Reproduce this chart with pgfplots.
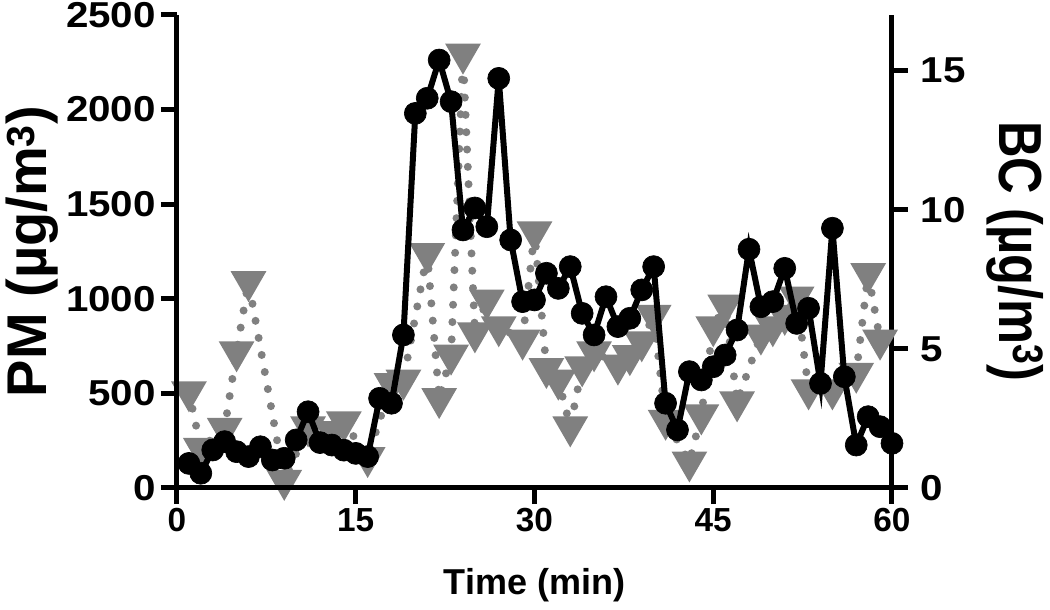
\documentclass[border=0pt]{standalone}
\usepackage{fontspec}
\setmainfont{Liberation Sans}
\usepackage{pgfplots}
\pgfplotsset{compat=1.18}
\definecolor{bcgrey}{RGB}{128,128,128}

\pgfplotstableread{
t bc
1 3.46
2 1.43
4 2.15
5 4.90
6 7.42
9 0.28
11 2.20
13 2.03
14 2.38
16 1.10
18 3.76
19 3.88
21 8.43
22 3.22
23 4.78
24 15.6
25 5.58
26 6.76
27 5.80
29 5.32
30 9.21
31 4.30
32 3.88
33 2.20
34 4.36
35 4.90
37 4.42
38 4.76
39 5.26
40 6.21
41 2.44
43 0.94
44 2.63
45 5.80
46 6.58
47 3.10
49 5.50
50 5.80
51 6.21
52 6.87
53 3.53
55 3.53
57 4.13
58 7.71
59 5.32
}\bcdata

\pgfplotstableread{
t pm
1 130
2 78
3 201
4 245
5 192
6 166
7 218
8 148
9 157
10 254
11 403
12 240
13 227
14 200
15 183
16 166
17 474
18 448
19 809
20 1980
21 2060
22 2262
23 2042
24 1364
25 1480
26 1381
27 2165
28 1311
29 985
30 994
31 1135
32 1055
33 1170
34 923
35 809
36 1011
37 853
38 897
39 1047
40 1170
41 448
42 307
43 615
44 571
45 641
46 703
47 835
48 1262
49 958
50 985
51 1161
52 870
53 950
54 553
55 1373
56 588
57 227
58 377
59 324
60 236
}\pmdata

\begin{document}
\begin{tikzpicture}
\pgfplotsset{
  common/.style={
    scale only axis, width=536.25pt, height=354.75pt,
    xmin=0, xmax=60, clip=false,
    axis line style={line width=3.75pt, -},
    tick style={line width=3.75pt, black},
    major tick length=12pt,
    tick align=outside,
    xticklabel style={font=\fontsize{25}{25}\selectfont\bfseries},
    yticklabel style={font=\fontsize{27}{27}\selectfont\bfseries, xscale=1.12},
    /pgf/number format/assume math mode=true,
    /pgf/number format/1000 sep={},
    scaled ticks=false,
  }
}
\begin{axis}[common, hide x axis, axis y line*=right,
  ymin=0, ymax=17, ytick={0,5,10,15},
  yticklabel style={xshift=5pt},
  every axis y label/.style={at={(axis description cs:1.172,0.5)}, anchor=center, rotate=-90, yscale=1.2, font=\fontsize{38}{38}\selectfont\bfseries},
  ylabel={BC (µg/m\textsuperscript{3})}]
\addplot[bcgrey, line width=6pt, dash pattern=on 0pt off 13pt, line cap=round,
  mark=triangle*, mark options={solid, rotate=180, fill=bcgrey, draw=none, mark size=9.5pt}]
  table[x=t, y=bc] {\bcdata};
\end{axis}
\begin{axis}[common, axis x line*=bottom, axis y line*=left,
  ymin=0, ymax=2500, ytick={0,500,1000,1500,2000,2500},
  xtick={0,15,30,45,60},
  every axis y label/.style={at={(axis description cs:-0.203,0.5)}, anchor=center, rotate=90, font=\fontsize{42}{42}\selectfont\bfseries},
  every axis x label/.style={at={(axis description cs:0.5,-0.205)}, anchor=center, font=\fontsize{27}{27}\selectfont\bfseries},
  ylabel={PM (µg/m\textsuperscript{3})},
  xlabel={Time (min)}]
\addplot[black, line width=4.5pt, mark=*, mark options={solid, fill=black, line width=0.5pt, mark size=8.25pt}]
  table[x=t, y=pm] {\pmdata};
\end{axis}
\pgfresetboundingbox
\path[use as bounding box] (-132.75pt,-91.5pt) rectangle (654.75pt,366pt);
\end{tikzpicture}
\end{document}
